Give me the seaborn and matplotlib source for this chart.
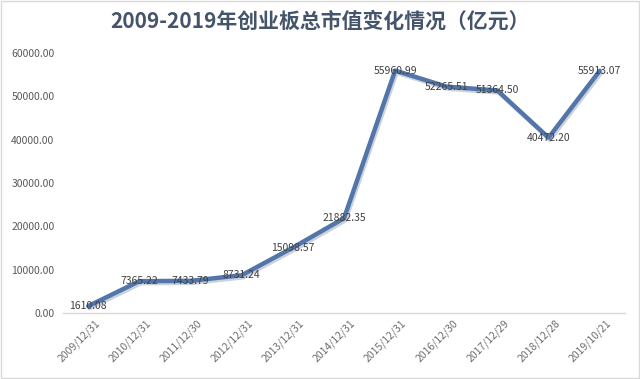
import pandas as pd
import seaborn as sns
import matplotlib.pyplot as plt
import matplotlib.patheffects as pe
from matplotlib.patches import Rectangle
from matplotlib.transforms import ScaledTranslation

dates = ["2009/12/31", "2010/12/31", "2011/12/30", "2012/12/31", "2013/12/31",
         "2014/12/31", "2015/12/31", "2016/12/30", "2017/12/29", "2018/12/28",
         "2019/10/21"]
values = [1610.08, 7365.22, 7433.79, 8731.24, 15098.57,
          21882.35, 55960.99, 52265.51, 51364.50, 40472.20,
          55913.07]
yticks = [0, 10000, 20000, 30000, 40000, 50000, 60000]

df = pd.DataFrame({"date": dates, "value": values})

sns.set_style("white")
plt.rcParams['font.family'] = ['Noto Sans CJK SC', 'DejaVu Sans']

fig = plt.figure(figsize=(6.4, 3.79), dpi=100)
ax = fig.add_axes([0.098, 0.174, 0.879, 0.686])

sns.lineplot(data=df, x="date", y="value", sort=False, ax=ax,
             color="#5275AA", linewidth=3.2,
             path_effects=[pe.SimpleLineShadow(offset=(1, -1.5), shadow_color="#9AA6B8", alpha=0.5),
                           pe.Normal()])

for i, v in enumerate(values):
    ax.text(i, v, f"{v:.2f}", ha="center", va="center", fontsize=7.5, color="#404040")

ax.set_xlim(-0.5, len(dates) - 0.5)
ax.set_ylim(0, 60000)
ax.set_yticks(yticks)
ax.set_yticklabels([f"{t:.2f}" for t in yticks], fontsize=7.5, color="#595959")
ax.tick_params(axis="both", length=0, pad=6)
ax.set_xlabel("")
ax.set_ylabel("")

offset = ScaledTranslation(7 / 72, 0, fig.dpi_scale_trans)
for lab in ax.get_xticklabels():
    lab.set_rotation(45)
    lab.set_ha("right")
    lab.set_va("center")
    lab.set_rotation_mode("anchor")
    lab.set_fontsize(7.5)
    lab.set_color("#6E6E6E")
    lab.set_transform(lab.get_transform() + offset)

for s in ["top", "right", "left"]:
    ax.spines[s].set_visible(False)
ax.spines["bottom"].set_color("#D9D9D9")
ax.spines["bottom"].set_linewidth(1)

fig.text(0.5, 0.945, "2009-2019年创业板总市值变化情况（亿元）", ha="center", va="center",
         fontsize=15, fontweight="bold", color="#44546A")

fig.patches.append(Rectangle((0.002, 0.003), 0.996, 0.994, transform=fig.transFigure,
                             fill=False, edgecolor="#D9D9D9", linewidth=1))

fig.savefig("out.png", dpi=100)
